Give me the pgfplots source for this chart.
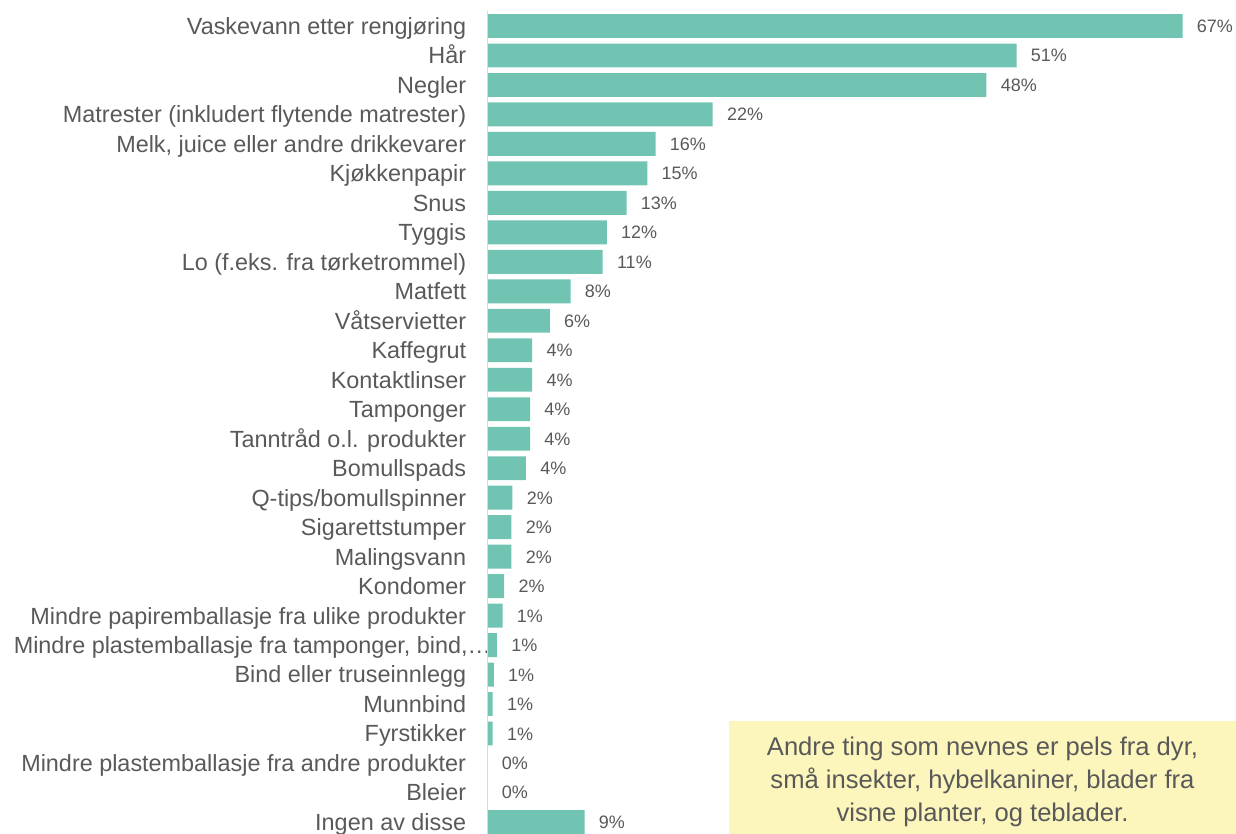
\documentclass[border=0pt]{standalone}
\usepackage{fontspec}
\setmainfont{Liberation Sans}
\usepackage{pgfplots}
\usepackage{pgfplotstable}
\pgfplotsset{compat=1.18}
\definecolor{barc}{HTML}{71C4B2}
\definecolor{txt}{HTML}{595959}
\definecolor{notec}{HTML}{FCF6BD}
\definecolor{axl}{HTML}{D9D9D9}
\pgfplotstableread{
y x lab
27 67.0 67
26 51.0 51
25 48.1 48
24 21.7 22
23 16.2 16
22 15.4 15
21 13.4 13
20 11.5 12
19 11.1 11
18 8.0 8
17 6.0 6
16 4.3 4
15 4.3 4
14 4.1 4
13 4.1 4
12 3.7 4
11 2.4 2
10 2.3 2
9 2.3 2
8 1.6 2
7 1.45 1
6 0.9 1
5 0.6 1
4 0.5 1
3 0.5 1
2 0 0
1 0 0
0 9.35 9
}\data
\begin{document}
\begin{tikzpicture}[x=0.5pt,y=0.5pt]
\useasboundingbox (0,0) rectangle (1236,834);
\begin{axis}[
  at={(470,0)}, anchor=south west,
  scale only axis, width=347.5pt, height=417pt,
  xmin=0, xmax=67, ymin=-0.408, ymax=27.882,
  xbar, bar width=0.81,
  axis lines*=left, axis line style={draw=none},
  xtick=\empty, major tick length=0pt,
  ytick={0,...,27},
  yticklabels={Ingen av disse, Bleier, Mindre plastemballasje fra andre produkter, Fyrstikker, Munnbind, Bind eller truseinnlegg, {Mindre plastemballasje fra tamponger, bind,…\hspace*{-12.5pt}}, Mindre papiremballasje fra ulike produkter, Kondomer, Malingsvann, Sigarettstumper, Q-tips/bomullspinner, Bomullspads, Tanntråd o.l. produkter, Tamponger, Kontaktlinser, Kaffegrut, Våtservietter, Matfett, Lo (f.eks. fra tørketrommel), Tyggis, Snus, Kjøkkenpapir, {Melk, juice eller andre drikkevarer}, Matrester (inkludert flytende matrester), Negler, Hår, Vaskevann etter rengjøring},
  y tick label style={font=\fontsize{11.7}{14}\selectfont, text=txt, inner sep=0pt, text height=8.4pt, text depth=0pt, xshift=-10.5pt},
  clip=false,
  point meta=explicit symbolic,
  nodes near coords={\pgfplotspointmeta\%},
  nodes near coords style={font=\fontsize{9}{10}\selectfont, text=txt, anchor=west, inner sep=0pt, text height=6.5pt, text depth=0pt, xshift=7pt},
]
\addplot[fill=barc, draw=none] table[x=x, y=y, meta=lab] {\data};
\draw[axl, line width=0.6pt] (axis cs:0,27.5) -- (axis cs:0,-0.408);
\end{axis}
\fill[notec] (729,0) rectangle (1236,113);
\node[align=center, text=txt, font=\fontsize{12.8}{16.4}\selectfont, inner sep=0pt] at (982.5,52) {Andre ting som nevnes er pels fra dyr,\\små insekter, hybelkaniner, blader fra\\visne planter, og teblader.};
\end{tikzpicture}
\end{document}
